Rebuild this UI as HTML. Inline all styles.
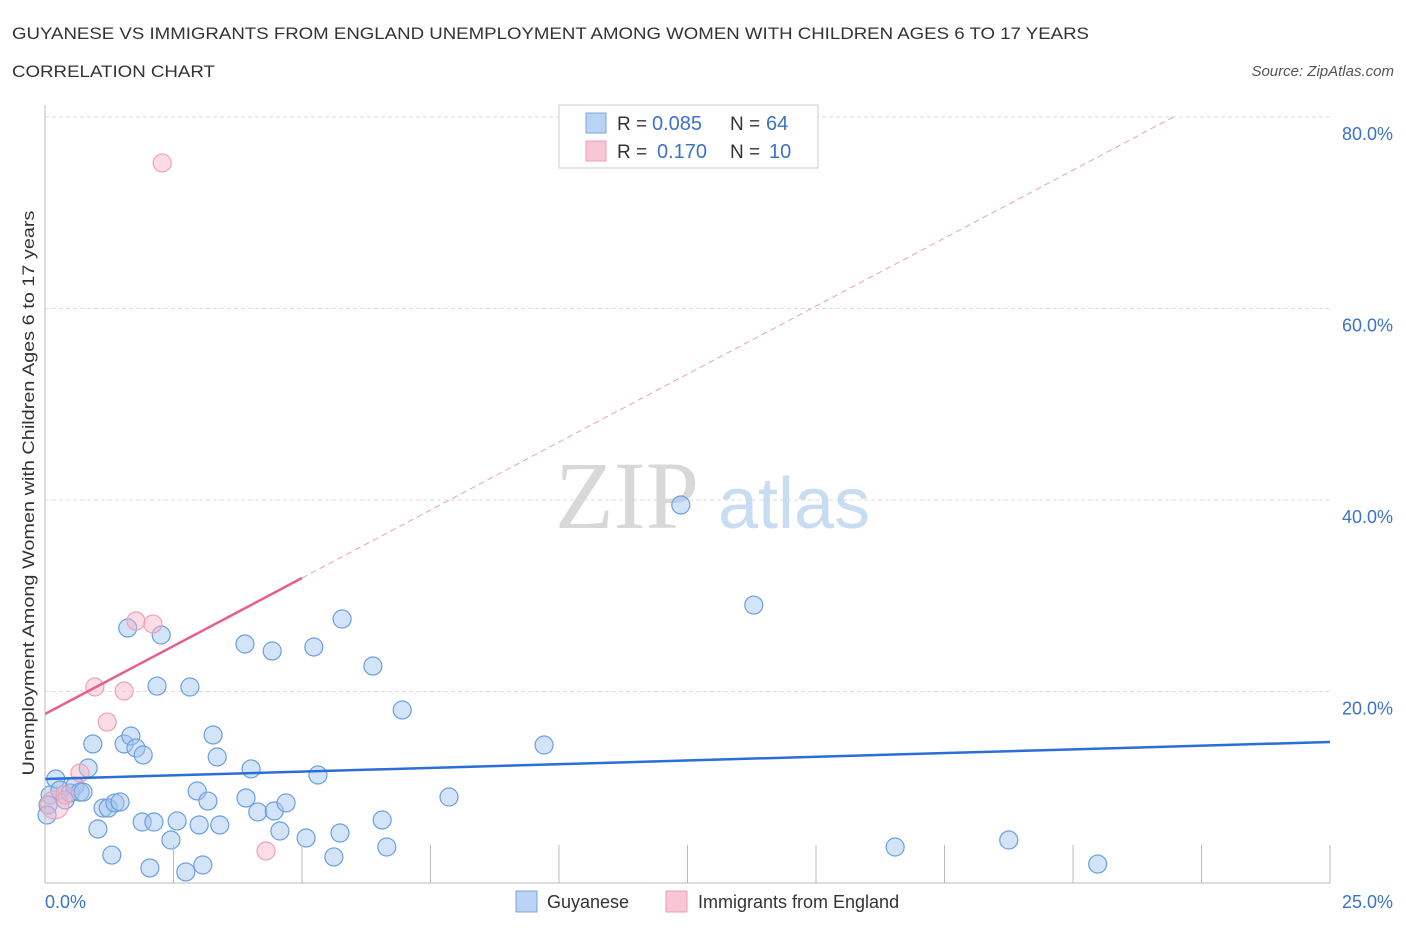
<!DOCTYPE html>
<html><head><meta charset="utf-8"><style>
body{margin:0;background:#fff;font-family:"Liberation Sans",sans-serif;}
</style></head><body>
<svg width="1406" height="930" xmlns="http://www.w3.org/2000/svg">
<text x="12" y="39" font-size="17" fill="#333" textLength="1077" lengthAdjust="spacingAndGlyphs">GUYANESE VS IMMIGRANTS FROM ENGLAND UNEMPLOYMENT AMONG WOMEN WITH CHILDREN AGES 6 TO 17 YEARS</text>
<text x="12" y="77" font-size="17" fill="#333" textLength="203" lengthAdjust="spacingAndGlyphs">CORRELATION CHART</text>
<text x="1394" y="76" font-size="15" fill="#555" font-style="italic" text-anchor="end">Source: ZipAtlas.com</text>
<g id="grid"></g>
<text x="555" y="528" font-size="96" fill="#d8d8d8" font-family="Liberation Serif,serif">ZIP</text>
<text x="718" y="528" font-size="72" fill="#c8dcf2">atlas</text>
<g id="points"></g>
<g id="lines"></g>
<line x1="45" y1="105" x2="45" y2="883" stroke="#bbb"/>
<line x1="45" y1="883" x2="1330" y2="883" stroke="#bbb"/>
<g id="ticks"></g>
<text x="45" y="908" font-size="18" fill="#3b73c8">0.0%</text>
<text x="1393" y="908" font-size="18" fill="#3b73c8" text-anchor="end">25.0%</text>
<text transform="translate(34,493) rotate(-90)" font-size="17" fill="#333" text-anchor="middle" textLength="565" lengthAdjust="spacingAndGlyphs">Unemployment Among Women with Children Ages 6 to 17 years</text>
<g>
<rect x="559" y="105" width="259" height="63" fill="#fff" stroke="#ccc"/>
<rect x="586" y="113" width="20" height="20" fill="#b9d3f5" stroke="#7aa6e0"/>
<rect x="586" y="141" width="20" height="20" fill="#f8c6d4" stroke="#ec9fb6"/>
<text x="617" y="130" font-size="19" fill="#333">R =</text>
<text x="652" y="130" font-size="20" fill="#3b73c8">0.085</text>
<text x="730" y="130" font-size="19" fill="#333">N =</text>
<text x="766" y="130" font-size="20" fill="#3b73c8">64</text>
<text x="617" y="158" font-size="19" fill="#333">R =</text>
<text x="657" y="158" font-size="20" fill="#3b73c8">0.170</text>
<text x="730" y="158" font-size="19" fill="#333">N =</text>
<text x="769" y="158" font-size="20" fill="#3b73c8">10</text>
</g>
<g>
<rect x="516" y="891" width="21" height="21" fill="#b9d3f5" stroke="#7aa6e0"/>
<text x="547" y="908" font-size="18" fill="#333">Guyanese</text>
<rect x="666" y="891" width="21" height="21" fill="#f8c6d4" stroke="#ec9fb6"/>
<text x="698" y="908" font-size="18" fill="#333">Immigrants from England</text>
</g>
</svg>
<script>
const yTicks=[20,40,60,80];
const yTickLabels=["20.0%","40.0%","60.0%","80.0%"];
const blueX=[0.21,0.10,0.06,0.29,0.39,0.49,0.58,0.68,0.84,0.93,1.03,1.13,1.23,1.30,1.36,1.46,1.54,1.61,1.67,1.77,1.91,1.89,2.04,2.12,2.18,2.26,2.45,2.57,2.74,2.82,2.96,3.00,3.07,3.17,3.27,3.35,3.40,3.89,3.91,4.01,4.14,4.42,4.46,4.57,4.69,5.08,5.23,5.31,5.62,5.74,5.78,6.38,6.56,6.65,6.95,7.86,9.71,12.37,13.79,16.54,18.75,20.48,0.04,0.74];
const blueY=[10.86,9.19,8.15,9.71,8.67,9.40,10.13,9.50,12.01,14.52,5.64,7.83,7.83,2.92,8.36,8.46,14.52,26.63,15.35,14.10,13.37,6.37,1.57,6.37,20.57,25.90,4.49,6.48,1.15,20.47,9.61,6.06,1.88,8.56,15.46,13.16,6.06,24.96,8.88,11.91,7.42,24.23,7.52,5.43,8.36,4.70,24.65,11.28,2.72,5.22,27.57,22.66,6.58,3.76,18.07,8.98,14.41,39.48,29.03,3.76,4.49,1.98,7.10,9.50];
const pinkX=[2.28,1.77,2.10,0.97,1.54,1.21,0.68,0.19,4.30,0.39];
const pinkY=[75.20,27.36,27.05,20.47,20.05,16.81,11.49,8.15,3.34,9.19];
const blueTrend=[10.86,14.73];
const pinkTrend=[17.65,2.84];
const NS="http://www.w3.org/2000/svg";
const sx=v=>45+v/25*1285;
const sy=v=>883-v/20*191.5;
function mk(tag,attrs,parent){const e=document.createElementNS(NS,tag);for(const k in attrs)e.setAttribute(k,attrs[k]);document.getElementById(parent).appendChild(e);return e;}
yTicks.forEach((t,i)=>{
  const l=mk('line',{x1:45,x2:1330,y1:sy(t),y2:sy(t),stroke:'#ddd','stroke-dasharray':'4,3'},'grid');
  
  
  const tx=mk('text',{x:1393,y:sy(t)+23,'font-size':18,fill:'#3b73c8','text-anchor':'end'},'grid');
  tx.textContent=yTickLabels[i];
  
  
});
for(let i=1;i<=10;i++){
  const l=mk('line',{x1:sx(i*2.5),x2:sx(i*2.5),y1:845,y2:883,stroke:'#bbb'},'ticks');
  
  
}
blueX.forEach((x,i)=>{
  const c=mk('circle',{cx:sx(x),cy:sy(blueY[i]),r:9,fill:'rgba(160,196,240,0.45)',stroke:'#6a9fe0','stroke-width':1.2},'points');
  
  
});
pinkX.forEach((x,i)=>{
  const c=mk('circle',{cx:sx(x),cy:sy(pinkY[i]),r:i===7?14:9,fill:'rgba(248,180,200,0.45)',stroke:'#f0a0b8','stroke-width':1.2},'points');
  
  
});
const bl=mk('line',{x1:sx(0),y1:sy(blueTrend[0]),x2:sx(25),y2:sy(blueTrend[1]),stroke:'#2a6fd6','stroke-width':2.5},'lines');


const pEnd=(80-pinkTrend[0])/pinkTrend[1];
const pd=mk('line',{x1:sx(5),y1:sy(pinkTrend[0]+5*pinkTrend[1]),x2:sx(pEnd),y2:sy(80),stroke:'#eaa0b8','stroke-width':1,'stroke-dasharray':'6,4'},'lines');


const pl=mk('line',{x1:sx(0),y1:sy(pinkTrend[0]),x2:sx(5),y2:sy(pinkTrend[0]+5*pinkTrend[1]),stroke:'#e8608a','stroke-width':2.5},'lines');


</script>
</body></html>
